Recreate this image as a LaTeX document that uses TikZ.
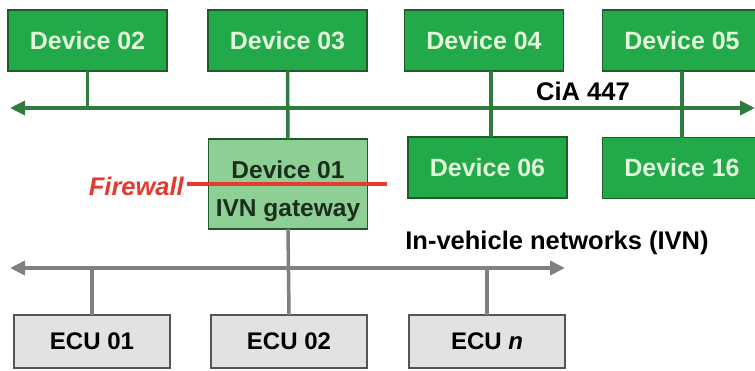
\documentclass[tikz,border=0pt]{standalone}
\usepackage{fontspec}
\setmainfont{Liberation Sans}
\usetikzlibrary{arrows.meta}

\definecolor{devfill}{HTML}{22A94A}
\definecolor{devedge}{HTML}{1F5C2C}
\definecolor{devtext}{HTML}{E2F6DA}
\definecolor{gwfill}{HTML}{8DCF95}
\definecolor{gwtext}{HTML}{1C2E1C}
\definecolor{busgreen}{HTML}{2E7D3E}
\definecolor{busgray}{HTML}{808080}
\definecolor{ecufill}{HTML}{E2E2E2}
\definecolor{ecuedge}{HTML}{555555}
\definecolor{fwred}{HTML}{E53A2F}

\tikzset{
  device/.style={draw=devedge, line width=1.8pt, fill=devfill, text=devtext,
    minimum width=159pt, minimum height=61pt, inner sep=0pt, outer sep=0pt,
    font=\bfseries\fontsize{25}{28}\selectfont},
  gateway/.style={draw=devedge, line width=1.8pt, fill=gwfill,
    minimum width=159pt, minimum height=90pt, inner sep=0pt, outer sep=0pt},
  gwlabel/.style={text=gwtext, inner sep=0pt, align=center,
    font=\bfseries\fontsize{24.5}{38}\selectfont},
  ecu/.style={draw=ecuedge, line width=1.8pt, fill=ecufill, text=black,
    minimum width=156pt, minimum height=53pt, inner sep=0pt, outer sep=0pt,
    font=\bfseries\fontsize{24}{28}\selectfont},
  busname/.style={text=black, inner sep=0pt, font=\bfseries\fontsize{25.5}{28}\selectfont},
  canbus/.style={draw=busgreen, line width=4pt,
    {Triangle[length=15pt,width=14pt]}-{Triangle[length=15pt,width=14pt]}},
  ivnbus/.style={draw=busgray, line width=4pt,
    {Triangle[length=15pt,width=14pt]}-{Triangle[length=15pt,width=14pt]}},
  greenstub/.style={draw=busgreen, line width=3.5pt},
  graystub/.style={draw=busgray, line width=3.5pt},
  firewall/.style={draw=fwred, line width=3.5pt},
  fwlabel/.style={text=fwred, inner sep=0pt, font=\bfseries\itshape\fontsize{25.5}{28}\selectfont}
}

\begin{document}
\begin{tikzpicture}[x=1pt, y=-1pt]
  \useasboundingbox (0,0) rectangle (755,370);

  % CiA 447 bus and its end points
  \coordinate (ciaL) at (10,108);
  \coordinate (ciaR) at (755,108);
  % in-vehicle network bus
  \coordinate (ivnL) at (10,268);
  \coordinate (ivnR) at (565,268);
  % stub line for devices 04 / 06
  \coordinate (s4) at (491,0);

  % upper row of devices
  \node[device] (d02) at (87.5,40.5) {Device 02};
  \node[device] (d03) at (287.5,40.5) {Device 03};
  \node[device] (d04) at (484,40.5) {Device 04};
  \node[device] (d05) at (682,40.5) {Device 05};

  % lower row of devices
  \node[device] (d06) at (487.5,167.5) {Device 06};
  \node[device] (d16) at (682,168) {Device 16};

  % gateway box, its two text lines sit a little low
  \node[gateway] (d01) at (288,184) {};
  \node[gwlabel] (d01txt) at ([yshift=-7pt]d01.center) {Device 01\\IVN gateway};

  % ECUs
  \node[ecu] (e01) at (92,341.5) {ECU 01};
  \node[ecu] (e02) at (289,341.5) {ECU 02};
  \node[ecu] (en) at (487,341.5) {ECU \textit{n}};

  % stubs to the CiA 447 bus
  \draw[greenstub] (d02.south) -- (d02.south |- ciaL);
  \draw[greenstub] (d03.south) -- (d01.north);
  \draw[greenstub] (d04.south -| s4) -- (d06.north -| s4);
  \draw[greenstub] (d05.south) -- (d16.north);

  % stubs to the in-vehicle network bus
  \draw[graystub] (e01.north) -- (e01.north |- ivnL);
  \draw[graystub] (d01.south) -- (e02.north);
  \draw[graystub] (en.north) -- (en.north |- ivnL);

  % buses
  \draw[canbus] (ciaL) -- (ciaR);
  \draw[ivnbus] (ivnL) -- (ivnR);

  \node[busname] (cia) at (583,91) {CiA 447};
  \node[busname] (ivn) at (557,243) {In-vehicle networks (IVN)};

  % firewall across the gateway
  \node[fwlabel, anchor=east] (fw) at (184,186) {Firewall};
  \coordinate (fwend) at (387,184);
  \draw[firewall] (fw.east |- fwend) ++(3,0) -- (fwend);
\end{tikzpicture}
\end{document}
